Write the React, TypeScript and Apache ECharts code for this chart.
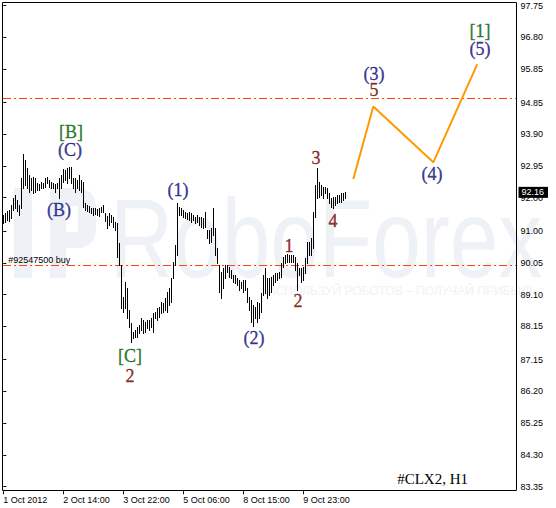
import React, { useEffect, useRef } from 'react';
import * as echarts from 'echarts';

// Hourly bars (#CLX2, H1) — index 0 = 1 Oct 2012 00:00
const highs = [
  91.48, 91.54, 91.60, 91.63, 91.78, 91.99, 92.08, 91.93, 91.78, 92.59,
  93.31, 93.13, 92.89, 92.68, 92.59, 92.62, 92.59, 92.44, 92.41, 92.47,
  92.44, 92.59, 92.62, 92.53, 92.47, 92.44, 92.41, 92.44, 92.59, 92.68,
  92.86, 92.83, 92.89, 92.92, 92.92, 92.59, 92.59, 92.53, 92.68, 92.53,
  92.47, 91.84, 91.78, 91.75, 91.69, 91.69, 91.69, 91.66, 91.69, 91.72,
  91.78, 91.54, 91.45, 91.54, 91.48, 91.42, 91.27, 91.24, 90.64, 89.98,
  89.02, 89.47, 89.29, 88.63, 88.24, 87.97, 88.03, 88.12, 88.18, 88.39,
  88.33, 88.27, 88.33, 88.33, 88.39, 88.54, 88.57, 88.69, 88.72, 88.87,
  88.84, 88.99, 89.17, 89.29, 89.59, 90.07, 90.58, 91.84, 91.72, 91.69,
  91.63, 91.57, 91.54, 91.57, 91.54, 91.48, 91.42, 91.48, 91.42, 91.42,
  91.39, 91.57, 91.03, 91.03, 91.09, 91.69, 91.09, 90.49, 89.98, 89.77,
  89.89, 89.98, 89.98, 89.92, 89.83, 89.68, 89.68, 89.59, 89.53, 89.47,
  89.53, 89.53, 89.29, 89.02, 88.93, 88.78, 88.72, 88.87, 88.84, 89.14,
  89.68, 89.89, 89.59, 89.59, 89.62, 89.68, 89.74, 89.74, 89.77, 90.04,
  90.22, 90.28, 90.31, 90.28, 90.28, 90.28, 90.22, 90.04, 89.89, 89.89,
  89.92, 90.19, 90.67, 90.67, 90.79, 91.57, 92.38, 92.89, 92.47, 92.38,
  92.32, 92.32, 92.29, 92.14, 91.99, 92.02, 92.02, 92.08, 92.08, 92.14,
  92.14, 92.17,
];
const lows = [
  91.24, 91.27, 91.33, 91.30, 91.39, 91.63, 91.69, 91.60, 91.48, 91.69,
  92.29, 92.38, 92.29, 92.17, 92.23, 92.14, 92.17, 92.23, 92.23, 92.29,
  92.29, 92.32, 92.44, 92.32, 92.29, 92.29, 92.17, 92.29, 91.99, 92.29,
  92.47, 92.53, 92.44, 92.59, 92.44, 92.29, 92.17, 92.29, 92.23, 92.17,
  91.72, 91.63, 91.60, 91.57, 91.54, 91.48, 91.51, 91.48, 91.45, 91.57,
  91.57, 91.30, 91.09, 91.18, 91.27, 91.12, 91.03, 90.22, 89.98, 88.69,
  88.57, 88.69, 88.39, 88.12, 87.67, 87.79, 87.82, 87.82, 87.94, 88.03,
  87.94, 87.97, 88.09, 88.03, 88.12, 87.97, 88.39, 88.33, 88.42, 88.54,
  88.57, 88.63, 88.57, 88.78, 88.87, 89.59, 89.98, 90.28, 91.48, 91.48,
  91.42, 91.39, 91.36, 91.33, 91.27, 91.33, 91.24, 91.27, 91.18, 91.12,
  91.09, 91.12, 90.79, 90.64, 90.67, 90.88, 90.28, 90.04, 89.17, 88.99,
  89.29, 89.59, 89.77, 89.62, 89.59, 89.47, 89.44, 89.38, 89.23, 89.29,
  89.17, 89.23, 88.87, 88.63, 88.27, 88.15, 88.39, 88.27, 88.39, 88.57,
  89.08, 89.14, 88.99, 89.08, 89.17, 89.38, 89.47, 89.53, 89.59, 89.62,
  89.92, 90.04, 90.07, 90.07, 90.07, 90.07, 89.83, 89.23, 89.68, 89.47,
  89.53, 89.74, 90.04, 90.28, 90.28, 90.49, 91.42, 91.99, 92.02, 92.08,
  91.99, 92.14, 91.99, 91.84, 91.72, 91.69, 91.78, 91.84, 91.87, 91.87,
  91.93, 91.99,
];

const xTickIndex = [0, 30, 60, 90, 120, 150];
const xTickLabels = ['1 Oct 2012', '2 Oct 14:00', '3 Oct 22:00', '5 Oct 06:00', '8 Oct 15:00', '9 Oct 23:00'];
const yTickLabels = ['83.35', '84.30', '85.25', '86.20', '87.15', '88.15', '89.10', '90.05', '91.00', '92.00', '92.95', '93.90', '94.85', '95.85', '96.80', '97.75'];

const forecastIndex = [175, 185, 215, 237];
const forecastPrice = [92.56, 94.73, 93.06, 96.0];

const levelLines = [95.0, 90.0];
const levelTexts = ['', '#92547500 buy'];
const lastPrice = 92.16;
const chartTitle = '#CLX2, H1';

const waveText = ['[B]', '(C)', '(B)', '(1)', '[C]', '2', '(2)', '1', '2', '3', '4', '(3)', '5', '(4)', '[1]', '(5)'];
const waveIndex = [33.85, 33.35, 27.85, 87.35, 63.35, 63.35, 125.35, 142.85, 147.35, 156.35, 164.85, 185.35, 185.35, 214.35, 238.35, 238.35];
const wavePrice = [93.98, 93.43, 91.63, 92.22, 87.26, 86.66, 87.79, 90.56, 88.91, 93.19, 91.29, 95.71, 95.23, 92.70, 96.99, 96.44];
const waveDegree = ['primary', 'inter', 'inter', 'inter', 'primary', 'minor', 'inter', 'minor', 'minor', 'minor', 'minor', 'inter', 'minor', 'inter', 'primary', 'inter'];

const degreeColor: Record<string, string> = {
  primary: '#005C00',
  inter: '#0A0A78',
  minor: '#720000',
};

const X_MAX = 256.6;
const SANS = '"Liberation Sans", Arial, sans-serif';
const SERIF = '"Liberation Serif", "Times New Roman", serif';
const WM = '#EEF1F5';

export default function App() {
  const ref = useRef<HTMLDivElement>(null);

  useEffect(() => {
    if (!ref.current) return;
    const chart = echarts.init(ref.current, null, { renderer: 'svg' });

    const barData = highs.map((h, i) => [i, h, lows[i]]);
    const forecastData = forecastIndex.map((x, k) => [x, forecastPrice[k]]);
    const levelData = levelLines.map((p, k) => [p, k]);
    const waveData = waveText.map((t, k) => {
      const c = degreeColor[waveDegree[k]];
      return {
        value: [waveIndex[k], wavePrice[k]],
        label: { formatter: t, color: c, textBorderColor: c, textBorderWidth: 0.35 },
      };
    });
    const yTickValues = yTickLabels.map((s) => parseFloat(s));

    const option: any = {
      animation: false,
      backgroundColor: '#ffffff',
      title: {
        text: chartTitle,
        right: 83,
        top: 466,
        textStyle: { fontFamily: SERIF, fontSize: 15, fontWeight: 'normal', color: '#000' },
      },
      grid: { left: 3.3, right: 39.5, top: 5.65, bottom: 21.39, containLabel: false },
      xAxis: {
        type: 'value',
        min: 0,
        max: X_MAX,
        offset: 4.6,
        splitLine: { show: false },
        axisLine: { show: false },
        axisTick: {
          show: true,
          customValues: xTickIndex,
          length: 3,
          lineStyle: { color: '#000', width: 1 },
        },
        axisLabel: {
          show: true,
          customValues: xTickIndex,
          formatter: (v: number) => {
            const k = xTickIndex.indexOf(Math.round(v));
            return k >= 0 ? xTickLabels[k] : '';
          },
          align: 'left',
          margin: 4,
          fontFamily: SANS,
          fontSize: 9,
          color: '#000',
        },
      },
      yAxis: {
        type: 'value',
        position: 'right',
        min: 83.35,
        max: 97.75,
        scale: true,
        splitLine: { show: false },
        axisLine: { show: false },
        axisTick: {
          show: true,
          customValues: yTickValues,
          length: 3,
          lineStyle: { color: '#000', width: 1 },
        },
        axisLabel: {
          show: true,
          customValues: yTickValues,
          formatter: (v: number) => v.toFixed(2),
          margin: 4,
          fontFamily: SANS,
          fontSize: 9,
          color: '#000',
        },
      },
      graphic: [
        {
          type: 'group',
          z: -10,
          silent: true,
          children: [
            { type: 'rect', shape: { x: 14, y: 188, width: 18, height: 90 }, style: { fill: WM } },
            { type: 'rect', shape: { x: 50, y: 188, width: 16, height: 90 }, style: { fill: WM } },
            { type: 'rect', shape: { x: 50, y: 188, width: 44, height: 18, r: [0, 20, 0, 0] }, style: { fill: WM } },
            { type: 'rect', shape: { x: 78, y: 188, width: 18, height: 60, r: [0, 18, 18, 0] }, style: { fill: WM } },
            { type: 'rect', shape: { x: 50, y: 232, width: 44, height: 16, r: [0, 0, 18, 0] }, style: { fill: WM } },
            {
              type: 'text',
              x: 110,
              y: 238,
              scaleX: 0.78,
              style: {
                text: 'RoboForex',
                font: '112px "Liberation Sans", Arial, sans-serif',
                fill: WM,
                align: 'left',
                verticalAlign: 'middle',
              },
            },
            {
              type: 'text',
              x: 267,
              y: 291,
              style: {
                text: 'ИСПОЛЬЗУЙ РОБОТОВ – ПОЛУЧАЙ ПРИБЫЛЬ',
                font: '12px "Liberation Sans", Arial, sans-serif',
                fill: '#F0F2F5',
                align: 'left',
                verticalAlign: 'middle',
              },
            },
          ],
        },
        {
          type: 'rect',
          z: 50,
          silent: true,
          shape: { x: 2.5, y: 2.5, width: 514, height: 488 },
          style: { fill: 'none', stroke: '#000', lineWidth: 1 },
        },
      ],
      series: [
        {
          type: 'custom',
          name: 'levels',
          z: 2,
          silent: true,
          data: levelData,
          encode: { y: 0 },
          renderItem: (params: any, api: any) => {
            const p = api.value(0);
            const k = api.value(1);
            const a = api.coord([0, p]);
            const b = api.coord([X_MAX, p]);
            const y = Math.round(a[1]) + 0.5;
            const children: any[] = [
              {
                type: 'line',
                shape: { x1: 3, y1: y, x2: b[0], y2: y },
                style: { stroke: '#FF4500', lineWidth: 1, lineDash: [8, 3, 2, 3] },
              },
            ];
            const t = levelTexts[k];
            if (t) {
              children.push({
                type: 'text',
                x: a[0] + 5,
                y: y - 1,
                style: {
                  text: t,
                  fill: '#000',
                  font: '9px "Liberation Sans", Arial, sans-serif',
                  align: 'left',
                  verticalAlign: 'bottom',
                },
              });
            }
            return { type: 'group', children };
          },
        },
        {
          type: 'custom',
          name: 'bars',
          z: 3,
          data: barData,
          encode: { x: 0, y: [1, 2] },
          renderItem: (params: any, api: any) => {
            const hi = api.coord([api.value(0), api.value(1)]);
            const lo = api.coord([api.value(0), api.value(2)]);
            const px = Math.round(hi[0]) + 0.5;
            return {
              type: 'line',
              shape: { x1: px, y1: Math.round(hi[1]), x2: px, y2: Math.round(lo[1]) + 1 },
              style: { stroke: '#000', lineWidth: 1 },
            };
          },
          markLine: {
            silent: true,
            symbol: 'none',
            lineStyle: { color: 'transparent', width: 0 },
            data: [
              {
                yAxis: lastPrice,
                label: {
                  show: true,
                  position: 'end',
                  distance: 2,
                  formatter: lastPrice.toFixed(2),
                  backgroundColor: '#000',
                  color: '#fff',
                  padding: [1, 4, 1, 3],
                  fontFamily: SANS,
                  fontSize: 9,
                  lineHeight: 9,
                },
              },
            ],
          },
        },
        {
          type: 'line',
          name: 'forecast',
          z: 4,
          data: forecastData,
          showSymbol: false,
          symbol: 'none',
          lineStyle: { color: '#FF9900', width: 2 },
        },
        {
          type: 'scatter',
          name: 'waves',
          z: 5,
          symbolSize: 1,
          itemStyle: { color: 'transparent' },
          data: waveData,
          label: {
            show: true,
            position: 'inside',
            fontFamily: SERIF,
            fontSize: 18,
          },
        },
      ],
    };

    chart.setOption(option);
    return () => chart.dispose();
  }, []);

  return (
    <div
      ref={ref}
      style={{ position: 'absolute', left: 0, top: 0, width: 556, height: 508, background: '#fff' }}
    />
  );
}
